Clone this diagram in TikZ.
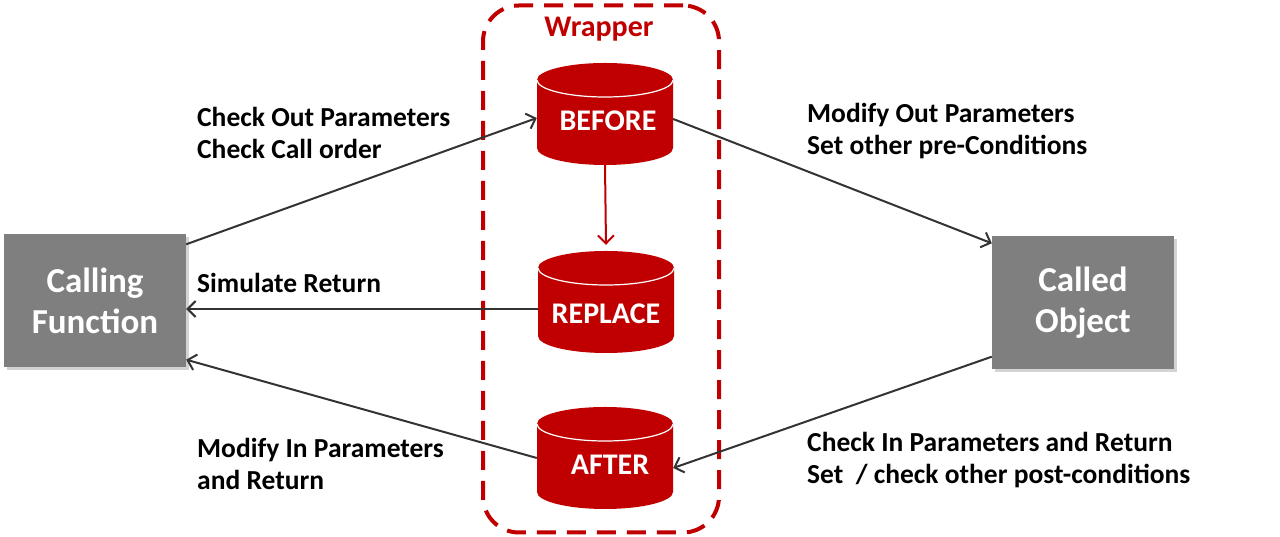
\documentclass[tikz,border=0pt]{standalone}
\usepackage{fontspec}
\setmainfont{Carlito}
\usetikzlibrary{arrows.meta,shadows}
\definecolor{wrapRed}{HTML}{C00000}
\definecolor{boxGray}{HTML}{7F7F7F}
\definecolor{lineGray}{HTML}{333333}
\newcommand{\cylRx}{68pt}
\newcommand{\cylRy}{17pt}

\begin{document}
\begin{tikzpicture}[x=1pt, y=1pt]
  \tikzset{
    every node/.style={inner sep=0pt},
    func/.style={fill=boxGray, text=white, minimum width=182pt, minimum height=133pt,
      align=center, font=\bfseries\fontsize{35}{41}\selectfont,
      drop shadow={opacity=0.35, shadow xshift=3pt, shadow yshift=-3pt}},
    cyl/.style={minimum width=136pt, minimum height=102pt, text=white,
      font=\bfseries\fontsize{30}{30}\selectfont, text height=34pt, text depth=0pt,
      path picture={
        \fill[wrapRed] ([yshift=\cylRy]path picture bounding box.south west)
          arc[start angle=180, end angle=360, x radius=\cylRx, y radius=\cylRy]
          -- ([yshift=-\cylRy]path picture bounding box.north east)
          arc[start angle=0, end angle=180, x radius=\cylRx, y radius=\cylRy] -- cycle;
        \draw[white, line width=1.2pt] ([yshift=-\cylRy]path picture bounding box.north west)
          arc[start angle=180, end angle=360, x radius=\cylRx, y radius=\cylRy];}},
    note/.style={anchor=west, align=left, font=\bfseries\fontsize{27.5}{32}\selectfont},
    flow/.style={draw=lineGray, line width=2pt, -{Straight Barb[length=8pt, width=16pt]}}
  }
  \useasboundingbox (0,0) rectangle (1280,537);

  % wrapper frame
  \node[draw=wrapRed, line width=4pt, dash pattern=on 19pt off 11pt, rounded corners=36pt,
    minimum width=236pt, minimum height=527pt] (wrap) at (601,268) {};
  \node[text=wrapRed, font=\bfseries\fontsize{30}{30}\selectfont] (wraptitle) at (599,508) {Wrapper};

  % the three hooks
  \node[cyl] (before) at (605,423) {\hspace{6pt}BEFORE};
  \node[cyl, text height=44pt] (replace) at (606,235) {REPLACE};
  \node[cyl] (after) at (605,79) {\hspace{10pt}AFTER};

  % caller and callee
  \node[func] (call) at (95,236) {Calling\\Function};
  \node[func] (called) at (1083,234) {Called\\Object};

  % connectors
  \draw[flow] ([yshift=-10pt]call.north east) -- ([yshift=-4pt]before.west);
  \draw[flow] ([yshift=-5pt]before.east) -- ([yshift=-7pt]called.north west);
  \draw[flow, draw=wrapRed] (before.south) -- ([yshift=6pt]replace.north);
  \draw[flow] ([yshift=-7pt]replace.west) -- ([yshift=-7pt]replace.west -| call.east);
  \draw[flow] (after.west) -- ([yshift=8pt]call.south east);
  \draw[flow] ([yshift=13pt]called.south west) -- ([yshift=-10pt]after.east);

  % labels
  \node[note] (outchk) at (197,404) {Check Out Parameters\\Check Call order};
  \node[note] (simret) at (197,254) {Simulate Return};
  \node[note] (inmod) at (197,73) {Modify In Parameters\\and Return};
  \node[note] (outmod) at (807,406) {Modify Out Parameters\\Set other pre-Conditions};
  \node[note] (inchk) at (807,77) {Check In Parameters and Return\\Set~ / check other post-conditions};
\end{tikzpicture}
\end{document}
